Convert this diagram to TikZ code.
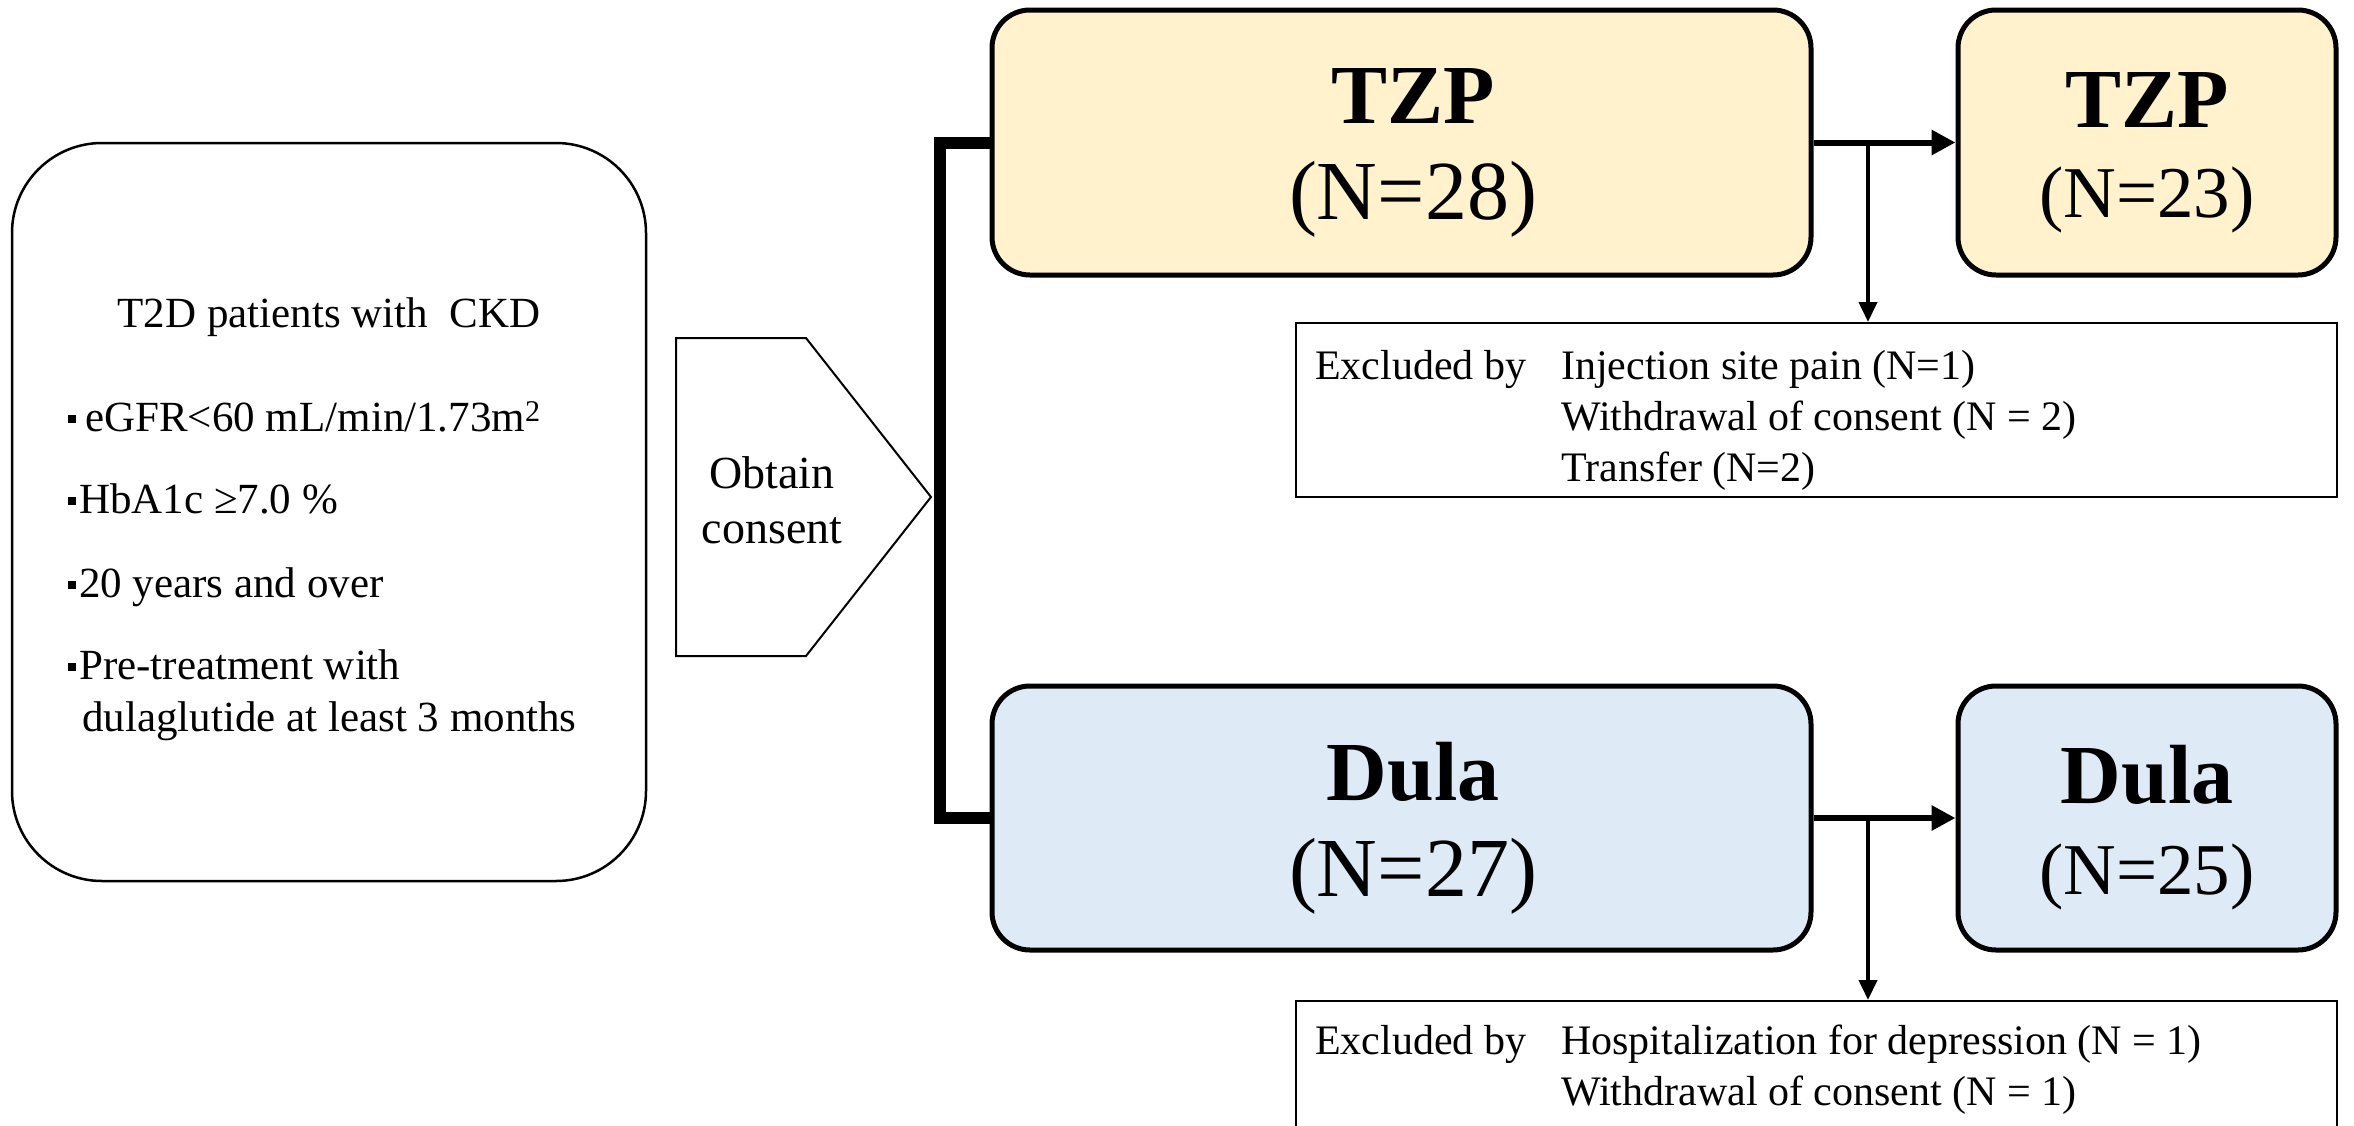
\documentclass[tikz,border=0pt]{standalone}
\usepackage{fontspec}
\setmainfont{Liberation Serif}
\usetikzlibrary{arrows.meta}
\definecolor{tzpfill}{HTML}{FFF2CC}
\definecolor{dulafill}{HTML}{DEEBF7}
\newcommand\mybullet{\rule[8pt]{8pt}{8pt}}
\begin{document}
\begin{tikzpicture}[x=1pt,y=-1pt,
  bigbox/.style={draw, line width=5pt, rounded corners=38pt, inner sep=0pt},
  leftbox/.style={draw, line width=2.5pt, rounded corners=90pt, inner sep=0pt},
  exbox/.style={draw, line width=2pt, inner sep=0pt},
  mainarr/.style={line width=6pt, -{Triangle[length=24pt,width=24pt]}},
  brancharr/.style={line width=4pt, -{Triangle[length=20pt,width=18pt]}},
  bracket/.style={line width=12pt},
  lefttext/.style={font=\fontsize{43}{51}\selectfont, inner sep=0pt},
  extext/.style={font=\fontsize{42}{50}\selectfont, inner sep=0pt, anchor=base west},
  headbold/.style={font=\bfseries\fontsize{84}{90}\selectfont, inner sep=0pt},
  countbig/.style={font=\fontsize{84}{90}\selectfont, inner sep=0pt},
  countsmall/.style={font=\fontsize{73}{80}\selectfont, inner sep=0pt}]
\useasboundingbox (0,0) rectangle (2354,1125);

% left criteria box
\node[leftbox, minimum width=634pt, minimum height=738pt] (crit) at (329,512) {};
\node[lefttext] (t2d) at (329,317) {T2D patients with\ \ CKD};
\node[lefttext, anchor=base west] (c1) at (68,431) {\mybullet\hspace{9pt}eGFR<60 mL/min/1.73m\textsuperscript{2}};
\node[lefttext, anchor=base west] (c2) at (68,513) {\mybullet\hspace{3pt}HbA1c ≥7.0 \%};
\node[lefttext, anchor=base west] (c3) at (68,597) {\mybullet\hspace{3pt}20 years and over};
\node[lefttext, anchor=base west] (c4) at (68,679) {\mybullet\hspace{3pt}Pre-treatment with};
\node[lefttext, anchor=base west] (c5) at (82,731) {dulaglutide at least 3 months};

% obtain consent pentagon
\coordinate (p1) at (676,338);
\coordinate (p2) at (806,338);
\coordinate (p3) at (931,497);
\coordinate (p4) at (806,656);
\coordinate (p5) at (676,656);
\draw[line width=2pt, line join=miter] (p1) -- (p2) -- (p3) -- (p4) -- (p5) -- cycle;
\node[font=\fontsize{46}{55}\selectfont, align=center, inner sep=0pt] (oc) at (772,500) {Obtain\\consent};

% group boxes
\node[bigbox, fill=tzpfill, minimum width=819pt, minimum height=265pt] (tzp) at (1401.5,142.5) {};
\node[bigbox, fill=tzpfill, minimum width=378pt, minimum height=265pt] (tzp2) at (2147,142.5) {};
\node[bigbox, fill=dulafill, minimum width=819pt, minimum height=264pt] (dula) at (1401.5,818) {};
\node[bigbox, fill=dulafill, minimum width=378pt, minimum height=264pt] (dula2) at (2147,818) {};

\node[headbold] (tzpA) at (1413,96) {TZP};
\node[countbig] (tzpN) at (1413,199) {(N=28)};
\node[headbold] (tzp2A) at (2147,100) {TZP};
\node[countsmall] (tzp2N) at (2147,200) {(N=23)};
\node[headbold] (dulaA) at (1413,772) {Dula};
\node[countbig] (dulaN) at (1413,876) {(N=27)};
\node[headbold] (dula2A) at (2147,775) {Dula};
\node[countsmall] (dula2N) at (2147,877) {(N=25)};

% bracket from consent to both arms
\coordinate (jt) at (940,142.5);
\draw[bracket] (tzp.west) -- (jt) |- (dula.west);

% exclusion boxes
\node[exbox, minimum width=1041pt, minimum height=174pt] (ex1) at (1816.5,410) {};
\node[exbox, minimum width=1041pt, minimum height=150pt] (ex2) at (1816.5,1076) {};

\node[extext] (ex1a) at (1315,379) {Excluded by};
\node[extext] (ex1b) at (1561,379) {Injection site pain (N=1)};
\node[extext] (ex1c) at (1561,430) {Withdrawal of consent (N = 2)};
\node[extext] (ex1d) at (1561,481) {Transfer (N=2)};
\node[extext] (ex2a) at (1315,1054) {Excluded by};
\node[extext] (ex2b) at (1561,1054) {Hospitalization for depression (N = 1)};
\node[extext] (ex2c) at (1561,1105) {Withdrawal of consent (N = 1)};

% arrows
\draw[mainarr] (tzp.east) -- (tzp2.west);
\draw[mainarr] (dula.east) -- (dula2.west);
\coordinate (br1) at (1868,142.5);
\coordinate (br2) at (1868,818);
\draw[brancharr] (br1) -- (br1 |- ex1.north);
\draw[brancharr] (br2) -- (br2 |- ex2.north);
\end{tikzpicture}
\end{document}
